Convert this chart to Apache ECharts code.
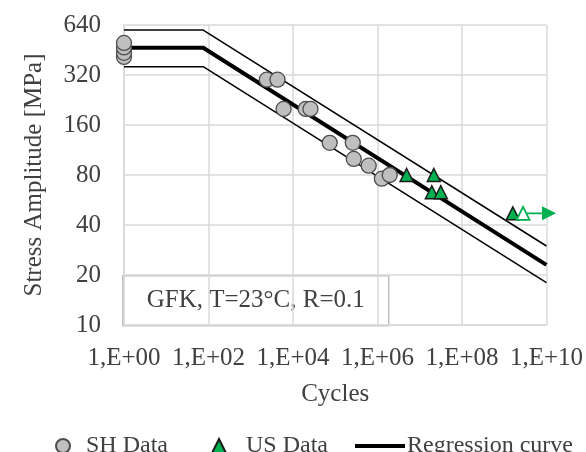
<!DOCTYPE html>
<html>
<head>
<meta charset="utf-8">
<script src="https://cdn.jsdelivr.net/npm/echarts@6/dist/echarts.min.js"></script>
<style>
  html, body { margin: 0; padding: 0; background: #ffffff; }
  #chart { width: 586px; height: 452px; }
</style>
</head>
<body>
<div id="chart"></div>
<script>
// S-N data, cycles to failure vs. stress amplitude (MPa)
const shCycles = [1, 1, 1, 1, 2.4e3, 4.3e3, 6.0e3, 2.0e4, 2.6e4, 7.4e4, 2.6e5, 2.75e5, 6.2e5, 1.27e6, 1.95e6];
const shStress = [411, 435, 469, 499, 300, 300, 200, 200, 200, 125, 125, 100, 91, 76, 80];

const usCycles = [4.9e6, 2.16e7, 1.94e7, 3.16e7, 1.6e9];
const usStress = [80, 80, 63, 63, 47];

// run-out specimen (test stopped without failure)
const runoutCycles = [2.8e9];
const runoutStress = [47];
const runoutArrowEnd = 1.15e10;

// regression curve with scatter band
const curveCycles = [1, 75, 1e10];
const curveMedian = [467, 467, 23];
const curveUpper = [597, 597, 29.9];
const curveLower = [359, 359, 18];

// axis tick labels
const xTickLabels = ['1,E+00', '1,E+02', '1,E+04', '1,E+06', '1,E+08', '1,E+10'];
const yTickLabels = ['10', '20', '40', '80', '160', '320', '640'];

// log10 cycles on x, log2(stress / 10) on y
const toAxis = (n, s) => [Math.log10(n), Math.log2(s / 10)];
const pairs = (xs, ys) => xs.map((x, i) => toAxis(x, ys[i]));

const serif = 'Liberation Serif';
const textGrey = '#404040';
const gridGrey = '#d9d9d9';
const green = '#00b050';

const chart = echarts.init(document.getElementById('chart'), null, { renderer: 'canvas' });

const legendBase = {
  orient: 'horizontal',
  top: 429,
  itemHeight: 14,
  textStyle: { fontFamily: serif, fontSize: 24, color: textGrey },
  selectedMode: false
};

chart.setOption({
  animation: false,
  backgroundColor: '#ffffff',
  grid: { left: 124, right: 39, top: 25, height: 300 },
  xAxis: {
    type: 'value',
    min: 0, max: 10, interval: 2,
    name: 'Cycles',
    nameLocation: 'middle',
    nameGap: 57,
    nameTextStyle: { fontFamily: serif, fontSize: 25, color: textGrey },
    axisLine: { show: true, lineStyle: { color: gridGrey, width: 1.5 } },
    axisTick: { show: false },
    axisLabel: {
      margin: 21,
      fontFamily: serif, fontSize: 25, color: textGrey,
      formatter: v => xTickLabels[Math.round(v / 2)]
    },
    splitLine: { show: true, lineStyle: { color: gridGrey, width: 1.5 } }
  },
  yAxis: {
    type: 'value',
    min: 0, max: 6, interval: 1,
    name: 'Stress Amplitude [MPa]',
    nameLocation: 'middle',
    nameRotate: 90,
    nameGap: 77,
    nameTextStyle: { fontFamily: serif, fontSize: 25, color: textGrey },
    axisLine: { show: true, lineStyle: { color: gridGrey, width: 1.5 } },
    axisTick: { show: false },
    axisLabel: {
      margin: 23,
      fontFamily: serif, fontSize: 25, color: textGrey,
      formatter: v => yTickLabels[Math.round(v)]
    },
    splitLine: { show: true, lineStyle: { color: gridGrey, width: 1.5 } }
  },
  legend: [
    Object.assign({}, legendBase, {
      left: 50, itemWidth: 14,
      data: [{ name: 'SH Data', icon: 'circle' }],
      textStyle: Object.assign({}, legendBase.textStyle, { padding: [0, 0, 0, 11] })
    }),
    Object.assign({}, legendBase, {
      left: 206, itemWidth: 14,
      data: [{ name: 'US Data', icon: 'triangle' }],
      textStyle: Object.assign({}, legendBase.textStyle, { padding: [0, 0, 0, 15] })
    }),
    Object.assign({}, legendBase, {
      left: 350, itemWidth: 50,
      data: [{
        name: 'Regression curve',
        icon: 'path://M0,0 L50,0 L50,4 L0,4 Z',
        itemStyle: { color: '#000000', borderWidth: 0 }
      }],
      textStyle: Object.assign({}, legendBase.textStyle, { padding: [0, 0, 0, -3] })
    })
  ],
  series: [
    {
      name: 'upper band', type: 'line', symbol: 'none', z: 2,
      data: pairs(curveCycles, curveUpper),
      lineStyle: { color: '#000000', width: 1.5 }
    },
    {
      name: 'lower band', type: 'line', symbol: 'none', z: 2,
      data: pairs(curveCycles, curveLower),
      lineStyle: { color: '#000000', width: 1.5 }
    },
    {
      name: 'Regression curve', type: 'line', symbol: 'none', z: 3,
      data: pairs(curveCycles, curveMedian),
      itemStyle: { color: '#000000' },
      lineStyle: { color: '#000000', width: 4 }
    },
    {
      name: 'SH Data', type: 'scatter', symbol: 'circle', symbolSize: 15, z: 5,
      clip: false,
      data: pairs(shCycles, shStress),
      itemStyle: { color: '#bfbfbf', borderColor: '#4d4d4d', borderWidth: 1.3, opacity: 1 }
    },
    {
      name: 'US Data', type: 'scatter', symbol: 'triangle', symbolSize: 13, z: 6,
      clip: false,
      data: pairs(usCycles, usStress),
      itemStyle: { color: green, borderColor: '#1a1a1a', borderWidth: 1.5, opacity: 1 }
    },
    {
      name: 'run-out arrow', type: 'line', z: 5,
      clip: false,
      data: [
        { value: toAxis(runoutCycles[0], runoutStress[0]), symbol: 'none' },
        { value: toAxis(runoutArrowEnd, runoutStress[0]), symbol: 'triangle', symbolSize: 14, symbolRotate: -90 }
      ],
      showSymbol: true,
      itemStyle: { color: green },
      lineStyle: { color: green, width: 1.8 }
    },
    {
      name: 'run-out', type: 'scatter', symbol: 'triangle', symbolSize: 13, z: 6,
      clip: false,
      data: pairs(runoutCycles, runoutStress),
      itemStyle: { color: '#ffffff', borderColor: green, borderWidth: 1.8, opacity: 1 }
    }
  ],
  graphic: [
    {
      type: 'group',
      left: 122, top: 275, z: 10,
      children: [
        {
          type: 'rect',
          shape: { x: 0, y: 0, width: 266, height: 50 },
          style: { fill: '#ffffff', stroke: '#bfbfbf', lineWidth: 1.5 }
        },
        {
          type: 'text',
          x: 133, y: 25,
          style: {
            text: 'GFK, T=23°C, R=0.1',
            font: '25px "Liberation Serif"',
            fill: textGrey,
            align: 'center',
            verticalAlign: 'middle'
          }
        }
      ]
    }
  ]
});
</script>
</body>
</html>
